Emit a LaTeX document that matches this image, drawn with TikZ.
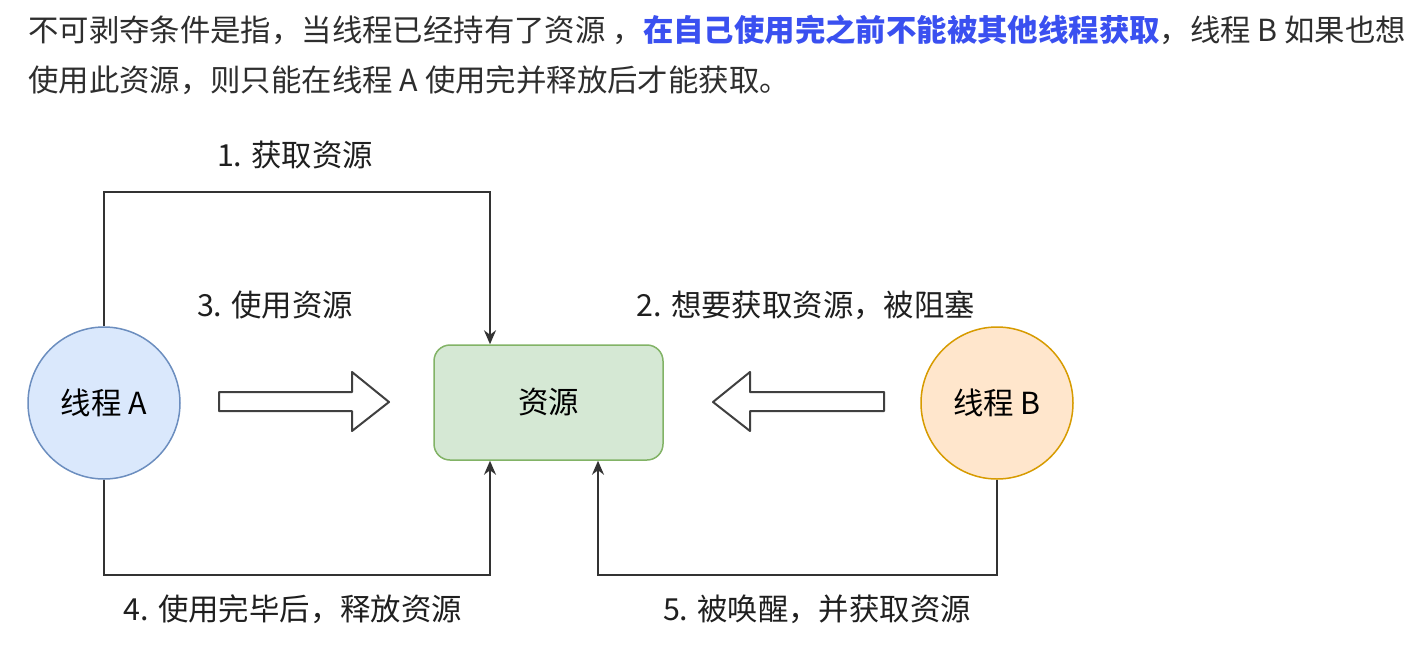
\documentclass[tikz,border=0pt]{standalone}
\usepackage{fontspec}
\setmainfont{Noto Sans CJK SC}
\usetikzlibrary{arrows.meta}
\tikzset{every node/.style={font=\fontsize{30.4}{36}\selectfont}}
\colorlet{textcol}{black!82}
\definecolor{linkcol}{RGB}{58,80,240}
\definecolor{afill}{HTML}{DAE8FC}
\definecolor{aline}{HTML}{6C8EBF}
\definecolor{bfill}{HTML}{FFE6CC}
\definecolor{bline}{HTML}{D79B00}
\definecolor{resfill}{HTML}{D5E8D4}
\definecolor{resline}{HTML}{82B366}
\colorlet{conncol}{black!80}
\tikzset{
  thread/.style={circle, minimum size=152pt, inner sep=0pt, line width=1.5pt},
  resbox/.style={rectangle, rounded corners=16pt, minimum width=229pt,
    minimum height=115pt, fill=resfill, draw=resline, line width=1.5pt},
  conn/.style={line width=2pt, conncol, -{Stealth[length=14pt,width=12pt]}},
  blockarrow/.style={line width=2pt, black!75, line join=round, fill=white},
  steplabel/.style={text=black!88}
}

\begin{document}
\begin{tikzpicture}[x=1pt, y=-1pt]

  % Page and background.
  \useasboundingbox (0,0) rectangle (1422,649);
  \fill[white] (0,0) rectangle (1422,649);

  % Paragraph above the diagram.
  \node[anchor=west, text=textcol, inner sep=0pt] (line1) at (28,30)
    {不可剥夺条件是指，当线程已经持有了资源 ，\textcolor{linkcol}{\bfseries 在自己使用完之前不能被其他线程获取}，线程 B 如果也想};
  \node[anchor=west, text=textcol, inner sep=0pt] (line2) at (28,80)
    {使用此资源，则只能在线程 A 使用完并释放后才能获取。};

  % Threads and the resource.
  \node[thread, fill=afill, draw=aline] (thA) at (104,403) {线程 A};
  \node[thread, fill=bfill, draw=bline] (thB) at (997,403) {线程 B};
  \node[resbox] (res) at (548.5,402.5) {资源};

  % Block arrows towards the resource.
  \draw[blockarrow] (219,392) -- (352,392) -- (352,372) -- (389,402)
    -- (352,431) -- (352,411) -- (219,411) -- cycle;
  \draw[blockarrow] (884,392) -- (750,392) -- (750,372) -- (713,402)
    -- (750,431) -- (750,411) -- (884,411) -- cycle;

  % Connectors.
  \draw[conn] (thA.north) -- ++(0,-134) -| ([xshift=-58.5pt]res.north);
  \draw[conn] (thA.south) -- ++(0,95) -| ([xshift=-58.5pt]res.south);
  \draw[conn] (thB.south) -- ++(0,95) -| ([xshift=49.5pt]res.south);

  % Step labels.
  \node[steplabel] (s1) at (295,155) {1. 获取资源};
  \node[steplabel] (s3) at (275,305) {3. 使用资源};
  \node[steplabel] (s2) at (806,305) {2. 想要获取资源，被阻塞};
  \node[steplabel] (s4) at (293,609) {4. 使用完毕后，释放资源};
  \node[steplabel] (s5) at (817,609) {5. 被唤醒，并获取资源};

\end{tikzpicture}
\end{document}
